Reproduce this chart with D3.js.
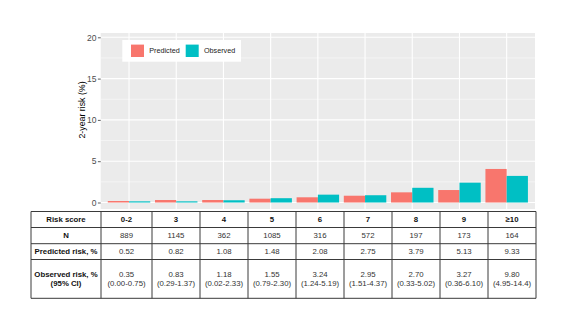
<!DOCTYPE html>
<html>
<head>
<meta charset="utf-8">
<script src="https://cdn.jsdelivr.net/npm/d3@7"></script>
<style>
  html, body { margin: 0; padding: 0; background: #fff; }
  svg { display: block; font-family: "Liberation Sans", Arial, sans-serif; }
</style>
</head>
<body>
<svg id="chart" width="573" height="326"></svg>
<script>
// ---- data ----
const categories = ["0-2", "3", "4", "5", "6", "7", "8", "9", "\u226510"];
const seriesNames = ["Predicted", "Observed"];
const predicted = [0.18, 0.30, 0.30, 0.46, 0.63, 0.82, 1.23, 1.51, 4.06];
const observed  = [0.14, 0.14, 0.27, 0.52, 0.95, 0.88, 1.78, 2.40, 3.22];
const yTicks = [0, 5, 10, 15, 20];
const yTitle = "2-year risk (%)";

const rowLabels = ["Risk score", "N", "Predicted risk, %", ["Observed risk, %", "(95% CI)"]];
const nValues = ["889", "1145", "362", "1085", "316", "572", "197", "173", "164"];
const predRisk = ["0.52", "0.82", "1.08", "1.48", "2.08", "2.75", "3.79", "5.13", "9.33"];
const obsRisk = ["0.35", "0.83", "1.18", "1.55", "3.24", "2.95", "2.70", "3.27", "9.80"];
const obsCI = ["(0.00-0.75)", "(0.29-1.37)", "(0.02-2.33)", "(0.79-2.30)", "(1.24-5.19)",
               "(1.51-4.37)", "(0.33-5.02)", "(0.36-6.10)", "(4.95-14.4)"];

const colors = { Predicted: "#F8766D", Observed: "#00BFC4" };

// ---- layout ----
const svg = d3.select("#chart");
const panel = { left: 100.7, right: 535, top: 33, bottom: 209 };

const x = d3.scalePoint().domain(categories).range([panel.left, panel.right]).padding(0.6);
const step = x.step();
const xInner = d3.scaleBand().domain(seriesNames).range([-0.45 * step, 0.45 * step]);
const y = d3.scaleLinear().domain([0, 20]).range([202.5, 37.3]);

// panel background
svg.append("rect")
  .attr("x", panel.left).attr("y", panel.top)
  .attr("width", panel.right - panel.left).attr("height", panel.bottom - panel.top)
  .attr("fill", "#EBEBEB");

// minor grid
const minor = d3.range(2.5, 20, 5);
svg.append("g").selectAll("line").data(minor).join("line")
  .attr("x1", panel.left).attr("x2", panel.right)
  .attr("y1", d => y(d)).attr("y2", d => y(d))
  .attr("stroke", "#fff").attr("stroke-width", 0.5);
// major grid
svg.append("g").selectAll("line").data(yTicks).join("line")
  .attr("x1", panel.left).attr("x2", panel.right)
  .attr("y1", d => y(d)).attr("y2", d => y(d))
  .attr("stroke", "#fff").attr("stroke-width", 1.1);
svg.append("g").selectAll("line").data(categories).join("line")
  .attr("x1", d => x(d)).attr("x2", d => x(d))
  .attr("y1", panel.top).attr("y2", panel.bottom)
  .attr("stroke", "#fff").attr("stroke-width", 1.1);

// bars
const rows = categories.map((c, i) => ({ cat: c, Predicted: predicted[i], Observed: observed[i] }));
const gBars = svg.append("g");
rows.forEach(r => {
  seriesNames.forEach(s => {
    gBars.append("rect")
      .attr("x", x(r.cat) + xInner(s))
      .attr("width", xInner.bandwidth())
      .attr("y", y(r[s]))
      .attr("height", y(0) - y(r[s]))
      .attr("fill", colors[s]);
  });
});

// y axis
const yAxis = d3.axisLeft(y).tickValues(yTicks).tickSize(2.8).tickPadding(1.5);
const gy = svg.append("g").attr("transform", `translate(${panel.left},0)`).call(yAxis);
gy.select(".domain").remove();
gy.selectAll(".tick line").attr("stroke", "#333").attr("stroke-width", 0.8);
gy.selectAll(".tick text").attr("fill", "#4D4D4D").attr("font-size", 8.5)
  .attr("font-family", "Liberation Sans, Arial, sans-serif");

svg.append("text")
  .attr("transform", `translate(84.5,110) rotate(-90)`)
  .attr("text-anchor", "middle")
  .attr("font-size", 8.8)
  .attr("fill", "#000")
  .text(yTitle);

// legend
const leg = svg.append("g");
leg.append("rect").attr("x", 122.3).attr("y", 40).attr("width", 118.7).attr("height", 21.7).attr("fill", "#fff");
const legItems = [
  { name: "Predicted", kx: 131, tx: 149.3 },
  { name: "Observed", kx: 185.7, tx: 204 }
];
legItems.forEach(it => {
  leg.append("rect").attr("x", it.kx).attr("y", 44.6).attr("width", 13).attr("height", 12.4)
    .attr("fill", colors[it.name]);
  leg.append("text").attr("x", it.tx).attr("y", 50.8).attr("dy", "0.35em")
    .attr("font-size", 7.2).attr("fill", "#222").text(it.name);
});

// ---- table ----
const colEdges = [31, 101].concat(d3.range(9).map(i => 152 + i * 48));
const rowEdges = [211.5, 227.5, 243.7, 259.5, 298.3];
const tbl = svg.append("g");
const lineColor = "#3a3a3a";

tbl.selectAll("line.h").data(rowEdges).join("line").attr("class", "h")
  .attr("x1", colEdges[0]).attr("x2", colEdges[colEdges.length - 1])
  .attr("y1", d => d).attr("y2", d => d)
  .attr("stroke", lineColor).attr("stroke-width", 1);
tbl.selectAll("line.v").data(colEdges).join("line").attr("class", "v")
  .attr("x1", d => d).attr("x2", d => d)
  .attr("y1", rowEdges[0]).attr("y2", rowEdges[rowEdges.length - 1])
  .attr("stroke", lineColor).attr("stroke-width", 1);

const colCenter = i => (colEdges[i] + colEdges[i + 1]) / 2;
const rowCenter = j => (rowEdges[j] + rowEdges[j + 1]) / 2;

function cellText(cx, cy, txt, bold) {
  tbl.append("text").attr("x", cx).attr("y", cy).attr("dy", "0.35em")
    .attr("text-anchor", "middle").attr("font-size", 7.8)
    .attr("font-weight", bold ? "bold" : "normal")
    .attr("fill", bold ? "#111" : "#333")
    .text(txt);
}

rowLabels.forEach((lab, j) => {
  if (Array.isArray(lab)) {
    cellText(colCenter(0), rowCenter(j) - 4.6, lab[0], true);
    cellText(colCenter(0), rowCenter(j) + 4.6, lab[1], true);
  } else {
    cellText(colCenter(0), rowCenter(j), lab, true);
  }
});
categories.forEach((c, i) => {
  cellText(colCenter(i + 1), rowCenter(0), c, true);
  cellText(colCenter(i + 1), rowCenter(1), nValues[i], false);
  cellText(colCenter(i + 1), rowCenter(2), predRisk[i], false);
  cellText(colCenter(i + 1), rowCenter(3) - 4.6, obsRisk[i], false);
  cellText(colCenter(i + 1), rowCenter(3) + 4.6, obsCI[i], false);
});
</script>
</body>
</html>
